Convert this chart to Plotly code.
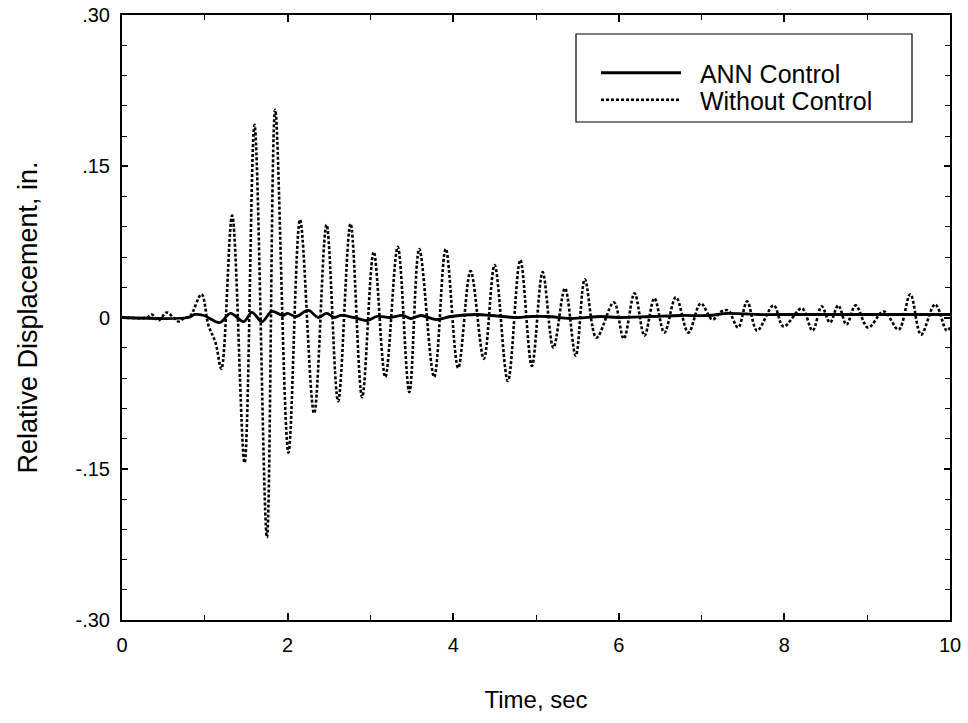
import plotly.graph_objects as go

# ---- data ----
t_without = [0.00, 0.30, 0.36, 0.44, 0.54, 0.62, 0.68, 0.76, 0.82, 0.96, 1.045, 1.13, 1.20,
             1.33, 1.48, 1.60, 1.75, 1.85, 2.01, 2.15, 2.32, 2.47, 2.61, 2.76, 2.90,
             3.04, 3.18, 3.33, 3.47, 3.59, 3.77, 3.91, 4.06, 4.21, 4.37, 4.50, 4.66,
             4.81, 4.95, 5.08, 5.21, 5.35, 5.48, 5.59, 5.73, 5.94, 6.06, 6.19, 6.31,
             6.43, 6.55, 6.69, 6.84, 6.99, 7.13, 7.24, 7.32, 7.44, 7.55, 7.67, 7.87,
             7.99, 8.21, 8.34, 8.45, 8.55, 8.65, 8.75, 8.86, 9.01, 9.20, 9.38, 9.52,
             9.65, 9.82, 9.96, 10.0]
v_without = [0.000, 0.000, 0.003, -0.003, 0.005, 0.000, -0.004, 0.000, 0.001, 0.023, -0.008, -0.025, -0.051,
             0.101, -0.144, 0.191, -0.218, 0.206, -0.134, 0.097, -0.095, 0.092, -0.083, 0.093, -0.079,
             0.065, -0.059, 0.070, -0.074, 0.068, -0.059, 0.068, -0.050, 0.046, -0.041, 0.052, -0.063,
             0.057, -0.048, 0.045, -0.030, 0.029, -0.038, 0.038, -0.020, 0.015, -0.021, 0.024, -0.018,
             0.019, -0.015, 0.020, -0.015, 0.014, -0.002, 0.006, 0.007, -0.010, 0.016, -0.013, 0.012,
             -0.009, 0.009, -0.013, 0.011, -0.005, 0.012, -0.007, 0.012, -0.010, 0.006, -0.012, 0.023,
             -0.017, 0.013, -0.013, -0.010]

t_ann = [0.00, 0.80, 0.88, 0.99, 1.18, 1.31, 1.47, 1.57, 1.69, 1.81, 1.94, 2.00, 2.10, 2.25,
         2.37, 2.47, 2.57, 2.64, 2.80, 2.96, 3.08, 3.24, 3.39, 3.49, 3.61, 3.79, 3.97,
         4.29, 4.46, 4.78, 4.94, 5.14, 5.42, 5.79, 5.99, 6.39, 6.76, 7.08, 7.32, 7.68,
         8.10, 8.50, 9.00, 9.50, 10.00]
v_ann = [0.000, 0.000, 0.003, 0.002, -0.005, 0.004, -0.004, 0.005, -0.004, 0.006, 0.002, 0.004, 0.001, 0.007,
         0.000, 0.004, 0.000, 0.002, 0.000, -0.003, 0.001, 0.000, 0.002, -0.001, 0.002, -0.002, 0.001,
         0.003, 0.002, 0.000, 0.001, 0.001, -0.001, 0.001, 0.000, 0.001, 0.002, 0.002, 0.004, 0.003,
         0.003, 0.003, 0.003, 0.003, 0.003]

x_tickvals = [0, 2, 4, 6, 8, 10]
x_ticktext = ["0", "2", "4", "6", "8", "10"]
y_tickvals = [-0.30, -0.15, 0.0, 0.15, 0.30]
y_ticktext = ["-.30", "-.15", "0", ".15", ".30"]

FONT = "Liberation Sans, Arial, Helvetica, sans-serif"
NB = "\u00a0\u00a0"

# plot area in pixels
L, R, T, B = 122, 950, 15, 620
PW, PH = R - L, B - T

fig = go.Figure()
fig.add_trace(go.Scatter(
    x=t_ann, y=v_ann, mode="lines", name=NB + "ANN Control", legend="legend",
    line=dict(color="black", width=2.8, shape="spline", smoothing=1.0),
))
fig.add_trace(go.Scatter(
    x=t_without, y=v_without, mode="lines", name=NB + "Without Control", legend="legend2",
    line=dict(color="black", width=2.6, dash="3px,2px", shape="spline", smoothing=1.0),
))

leg_common = dict(xanchor="left", yanchor="middle", bgcolor="rgba(0,0,0,0)", borderwidth=0,
                  font=dict(size=25, family=FONT, color="black"), itemwidth=80)

fig.update_layout(
    width=968, height=723,
    margin=dict(l=L, r=968 - R, t=T, b=723 - B, autoexpand=False),
    paper_bgcolor="white", plot_bgcolor="white",
    font=dict(family=FONT, color="black", size=20),
    showlegend=True,
    legend=dict(x=(596 - L) / PW, y=(B - 73) / PH, **leg_common),
    legend2=dict(x=(596 - L) / PW, y=(B - 100) / PH, **leg_common),
    shapes=[dict(type="rect", xref="paper", yref="paper",
                 x0=(576 - L) / PW, x1=(912 - L) / PW,
                 y0=(B - 122) / PH, y1=(B - 34) / PH,
                 line=dict(color="black", width=1.2), fillcolor="rgba(0,0,0,0)", layer="above")],
)

fig.update_xaxes(
    range=[0, 10], tickvals=x_tickvals, ticktext=x_ticktext,
    ticks="inside", ticklen=7, tickwidth=1.5, tickcolor="black",
    minor=dict(dtick=1, ticks="inside", ticklen=5, tickwidth=1.2, tickcolor="black"),
    showline=True, linecolor="black", linewidth=2, mirror="allticks",
    showgrid=False, zeroline=False, automargin=False,
    tickfont=dict(size=20), ticklabelstandoff=6,
    title=dict(text="Time, sec", font=dict(size=24), standoff=36),
)
fig.update_yaxes(
    range=[-0.30, 0.30], tickvals=y_tickvals, ticktext=y_ticktext,
    ticks="inside", ticklen=6, tickwidth=1.5, tickcolor="black",
    minor=dict(dtick=0.03, tick0=0, ticks="inside", ticklen=5, tickwidth=1.2, tickcolor="black"),
    showline=True, linecolor="black", linewidth=2, mirror="allticks",
    showgrid=False, zeroline=False, automargin=False,
    tickfont=dict(size=20), ticklabelstandoff=6,
    title=dict(text="Relative Displacement, in.", font=dict(size=27), standoff=30),
)

fig.write_html("out.html", config={"displayModeBar": False},
               post_script="document.body.style.margin='0';document.body.style.overflow='hidden';")
